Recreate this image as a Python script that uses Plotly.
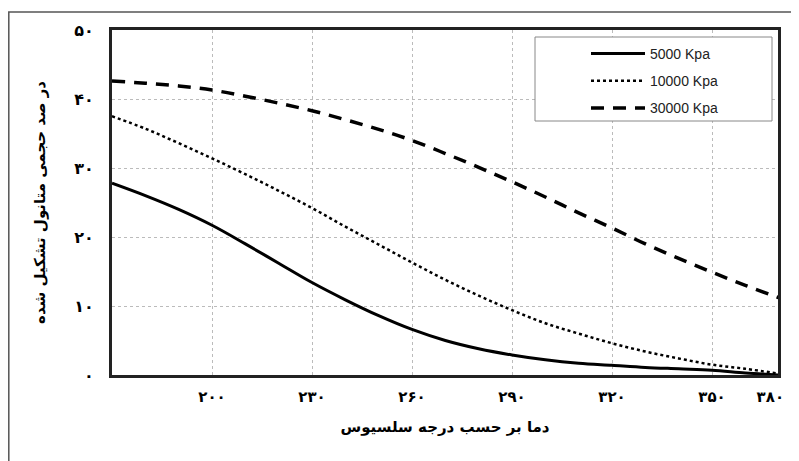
import plotly.graph_objects as go

temps = [170, 180, 190, 200, 210, 220, 230, 240, 250, 260, 270, 280, 290, 300, 310, 320, 330, 340, 350, 360, 370]
p5000 = [27.8, 26.0, 24.0, 21.7, 19.0, 16.2, 13.4, 10.9, 8.6, 6.6, 5.0, 3.8, 2.9, 2.2, 1.7, 1.4, 1.1, 0.9, 0.7, 0.3, 0.0]
p10000 = [37.5, 35.7, 33.6, 31.4, 29.1, 26.7, 24.2, 21.5, 18.9, 16.3, 13.8, 11.5, 9.4, 7.5, 6.0, 4.6, 3.4, 2.4, 1.5, 0.9, 0.2]
p30000 = [42.6, 42.3, 41.9, 41.3, 40.4, 39.4, 38.3, 37.0, 35.6, 34.0, 32.1, 30.1, 28.0, 25.8, 23.5, 21.3, 19.0, 16.9, 14.9, 13.0, 11.2]

series_names = ["5000 Kpa", "10000 Kpa", "30000 Kpa"]

x_tickvals = [200, 230, 260, 290, 320, 350, 367.5]
x_ticktext = ["۲۰۰", "۲۳۰", "۲۶۰", "۲۹۰", "۳۲۰", "۳۵۰", "۳۸۰"]
x_grid = [200, 230, 260, 290, 320, 350]
y_tickvals = [0, 10, 20, 30, 40, 50]
y_ticktext = ["۰", "۱۰", "۲۰", "۳۰", "۴۰", "۵۰"]

x_title = "دما بر حسب درجه سلسیوس"
y_title = "در صد حجمی متانول تشکیل شده"

fa_font = "DejaVu Sans"

fig = go.Figure()
fig.add_trace(go.Scatter(x=temps, y=p5000, mode="lines", name=series_names[0],
                         legendgroup="a",
                         line=dict(color="black", width=3, dash="solid", shape="spline")))
fig.add_trace(go.Scatter(x=temps, y=p10000, mode="lines", name=series_names[1],
                         legendgroup="b",
                         line=dict(color="black", width=2.5, dash="dot", shape="spline")))
fig.add_trace(go.Scatter(x=temps, y=p30000, mode="lines", name=series_names[2],
                         legendgroup="c",
                         line=dict(color="black", width=3.5, dash="13px,9px", shape="spline")))

# page body has an 8px margin, so figure coordinates are screen minus 8
FW, FH = 799, 461
L, R, T, B = 104, 770, 22, 367
W, H = R - L, B - T
def px(x):
    return (x - L) / W
def py(y):
    return (B - y) / H

# outer figure border (top and left visible)
fig.add_shape(type="rect", xref="paper", yref="paper",
              x0=px(0.8), x1=px(840), y0=py(4), y1=py(520),
              line=dict(color="#555", width=1.5), fillcolor="rgba(0,0,0,0)", layer="below")
# legend box
fig.add_shape(type="rect", xref="paper", yref="paper",
              x0=px(527), x1=px(764), y0=py(29), y1=py(113),
              line=dict(color="#888", width=1), fillcolor="white", layer="above")

fig.update_layout(
    width=FW, height=FH,
    margin=dict(l=L, r=FW - R, t=T, b=FH - B),
    paper_bgcolor="white", plot_bgcolor="white",
    showlegend=True,
    legend=dict(x=px(578), y=py(30), xanchor="left", yanchor="top",
                bgcolor="rgba(0,0,0,0)", borderwidth=0,
                font=dict(family="Liberation Sans", size=14, color="#222"),
                traceorder="grouped", tracegroupgap=6,
                itemwidth=54),
    xaxis=dict(range=[170, 369.8], tickmode="array", tickvals=x_tickvals, ticktext=x_ticktext,
               showgrid=False, zeroline=False, ticks="",
               showline=True, linecolor="#222", linewidth=3, mirror=True,
               tickfont=dict(family=fa_font, size=15, color="black", weight="bold"),
               ticklabelstandoff=6,
               minor=dict(tickmode="array", tickvals=x_grid, showgrid=True,
                          gridcolor="#bbb", griddash="dot", gridwidth=1, ticks=""),
               title=dict(text=x_title, standoff=17,
                          font=dict(family=fa_font, size=15, color="black", weight="bold"))),
    yaxis=dict(range=[0, 50], tickmode="array", tickvals=y_tickvals, ticktext=y_ticktext,
               showgrid=True, gridcolor="#bbb", griddash="dot", gridwidth=1,
               zeroline=False, ticks="",
               showline=True, linecolor="#222", linewidth=3, mirror=True,
               tickfont=dict(family=fa_font, size=16, color="black", weight="bold"),
               ticklabelstandoff=12,
               title=dict(text=y_title, standoff=26,
                          font=dict(family=fa_font, size=15, color="black", weight="bold"))),
)

fig.write_html("out.html")
